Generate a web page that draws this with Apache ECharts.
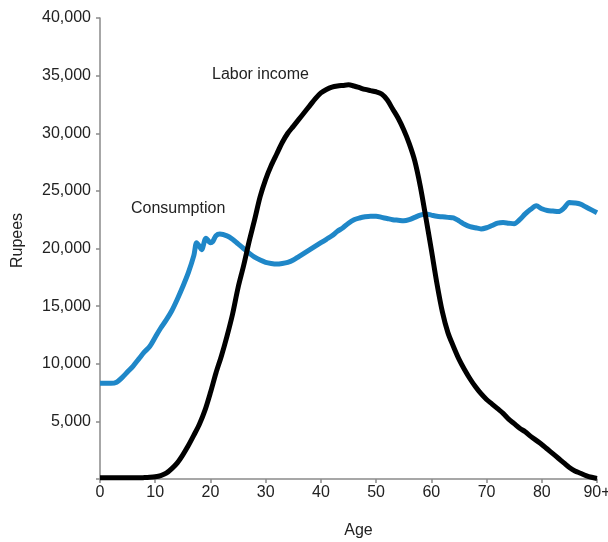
<!DOCTYPE html>
<html>
<head>
<meta charset="utf-8">
<script src="https://cdn.jsdelivr.net/npm/echarts@6/dist/echarts.min.js"></script>
<style>html,body{margin:0;padding:0;background:#fff}#c{width:608px;height:542px}</style>
</head>
<body>
<div id="c"></div>
<script>
var xTicks = [0, 10, 20, 30, 40, 50, 60, 70, 80, 90];
var xTickLabels = ['0', '10', '20', '30', '40', '50', '60', '70', '80', '90+'];
var yTicks = [0, 5000, 10000, 15000, 20000, 25000, 30000, 35000, 40000];

var consAges = [0, 1, 2, 3, 4, 5, 6, 7, 8, 9, 10, 11, 12, 13, 14, 15, 16, 17, 17.5, 18, 18.4, 19.2, 20, 20.4, 21, 21.7, 23, 24, 25, 26, 27, 28, 29, 30, 31, 32, 33, 34, 35, 36, 37, 38, 39, 40, 41, 42, 43, 44, 45, 46, 47, 48, 49, 50, 51, 52, 53, 54, 55, 56, 57, 58, 59, 60, 61, 62, 63, 64, 65, 66, 67, 68, 69, 70, 71, 72, 73, 74, 75, 76, 77, 78, 79, 80, 81, 82, 83, 84, 85, 86, 87, 88, 89, 90];
var consVals = [8300, 8300, 8300, 8400, 8800, 9300, 9800, 10400, 11000, 11500, 12300, 13100, 13800, 14600, 15600, 16700, 17900, 19400, 20500, 20200, 19900, 20900, 20500, 20600, 21100, 21250, 21100, 20800, 20400, 20000, 19600, 19250, 19000, 18800, 18700, 18650, 18700, 18800, 19000, 19300, 19600, 19900, 20200, 20500, 20800, 21100, 21500, 21800, 22200, 22500, 22650, 22750, 22800, 22800, 22700, 22600, 22500, 22450, 22400, 22500, 22700, 22900, 23000, 22900, 22800, 22750, 22700, 22650, 22400, 22100, 21900, 21800, 21700, 21800, 22000, 22200, 22250, 22200, 22150, 22500, 23000, 23400, 23700, 23450, 23300, 23250, 23200, 23500, 24000, 23950, 23850, 23600, 23350, 23100];

var laborAges = [0, 1, 2, 3, 4, 5, 6, 7, 8, 9, 10, 11, 12, 13, 14, 15, 16, 17, 18, 19, 20, 21, 22, 23, 24, 25, 26, 27, 28, 29, 30, 31, 32, 33, 34, 35, 36, 37, 38, 39, 40, 41, 42, 43, 44, 45, 46, 47, 48, 49, 50, 51, 52, 53, 54, 55, 56, 57, 58, 59, 60, 61, 62, 63, 64, 65, 66, 67, 68, 69, 70, 71, 72, 73, 74, 75, 76, 77, 78, 79, 80, 81, 82, 83, 84, 85, 86, 87, 88, 89, 90];
var laborVals = [100, 100, 100, 100, 100, 100, 100, 100, 120, 150, 200, 300, 500, 900, 1400, 2100, 2900, 3800, 4750, 5950, 7500, 9200, 10700, 12400, 14300, 16600, 18500, 20600, 22500, 24500, 26000, 27200, 28200, 29200, 30000, 30600, 31200, 31800, 32400, 33000, 33500, 33800, 34000, 34100, 34150, 34200, 34100, 33950, 33800, 33700, 33600, 33400, 32900, 32100, 31300, 30300, 29100, 27600, 25400, 22700, 19900, 17000, 14500, 12700, 11500, 10400, 9500, 8700, 8000, 7400, 6900, 6500, 6100, 5700, 5200, 4800, 4400, 4100, 3700, 3350, 3000, 2600, 2200, 1800, 1400, 1000, 700, 500, 300, 150, 50];

var seriesNames = ['Consumption', 'Labor income'];

function pairs(a, b) { return a.map(function (x, i) { return [x, b[i]]; }); }
function fmt(v) { return String(v).replace(/\B(?=(\d{3})+(?!\d))/g, ','); }

var FONT = "'Liberation Sans', Arial, Helvetica, sans-serif";
var TXT = '#222';
var chart = echarts.init(document.getElementById('c'), null, { renderer: 'canvas' });
chart.setOption({
  animation: false,
  backgroundColor: '#fff',
  grid: { left: 100, right: 11, top: 18, bottom: 63, containLabel: false, outerBoundsMode: 'none' },
  xAxis: {
    type: 'value', min: xTicks[0], max: xTicks[xTicks.length - 1], interval: 10,
    name: 'Age', nameLocation: 'middle', nameGap: 44,
    nameTextStyle: { fontFamily: FONT, fontSize: 16, color: TXT, padding: [0, 0, 0, 20] },
    axisLine: { lineStyle: { color: '#8a8a8a', width: 1.5 } },
    axisTick: { show: true, length: 4, lineStyle: { color: '#8a8a8a', width: 1.5 } },
    axisLabel: { fontFamily: FONT, fontSize: 16, color: TXT, margin: 6,
      formatter: function (v) { var i = xTicks.indexOf(v); return i >= 0 ? xTickLabels[i] : ''; } },
    splitLine: { show: false }
  },
  yAxis: {
    type: 'value', min: yTicks[0], max: yTicks[yTicks.length - 1], interval: 5000,
    name: 'Rupees', nameLocation: 'middle', nameGap: 74, nameRotate: 90,
    nameTextStyle: { fontFamily: FONT, fontSize: 16, color: TXT, padding: [0, 0, 0, 16] },
    axisLine: { show: true, lineStyle: { color: '#8a8a8a', width: 1.5 } },
    axisTick: { show: true, length: 4, lineStyle: { color: '#8a8a8a', width: 1.5 } },
    axisLabel: { fontFamily: FONT, fontSize: 16, color: TXT, margin: 9,
      formatter: function (v) { return v === 0 ? '' : fmt(v); } },
    splitLine: { show: false }
  },
  series: [
    { name: seriesNames[0], type: 'line', data: pairs(consAges, consVals), showSymbol: false, smooth: 0.3,
      lineStyle: { color: '#1f87c8', width: 5 }, z: 2 },
    { name: seriesNames[1], type: 'line', data: pairs(laborAges, laborVals), showSymbol: false, smooth: 0.3,
      lineStyle: { color: '#000', width: 5 }, z: 3 }
  ],
  graphic: [
    { type: 'text', left: 131, top: 201, style: { text: seriesNames[0], fontFamily: FONT, fontSize: 16, fill: TXT } },
    { type: 'text', left: 212, top: 67, style: { text: seriesNames[1], fontFamily: FONT, fontSize: 16, fill: TXT } }
  ]
});
</script>
</body>
</html>
